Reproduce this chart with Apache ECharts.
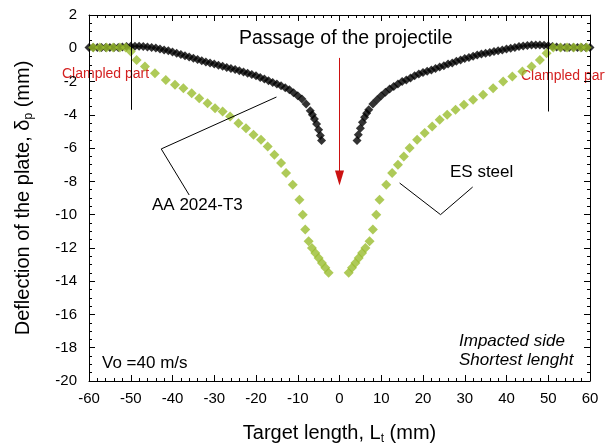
<!DOCTYPE html>
<html><head><meta charset="utf-8">
<script src="https://cdn.jsdelivr.net/npm/echarts@6/dist/echarts.min.js"></script>
<style>html,body{margin:0;padding:0;background:#fff}#c{width:605px;height:447px}</style>
</head><body><div id="c"></div>
<script>
// AA 2024-T3 (black diamonds)
const aaX = [-60,-59,-58,-57,-56,-55,-54,-53,-52,-51,-50,-49,-48,-47,-46,-45,-44,-43,-42,-41,-40,-39,-38,-37,-36,-35,-34,-33,-32,-31,-30,-29,-28,-27,-26,-25,-24,-23,-22,-21,-20,-19,-18,-17,-16,-15,-14,-13,-12,-11,-10,-9,-8,-7,-6.5,-6,-5.5,-5,-4.6,-4.3,
  4.2,4.5,5,5.5,6,6.5,7,8,9,10,11,12,13,14,15,16,17,18,19,20,21,22,23,24,25,26,27,28,29,30,31,32,33,34,35,36,37,38,39,40,41,42,43,44,45,46,47,48,49,50,51,52,53,54,55,56,57,58,59,60];
const aaY = [0.05,0.05,0.05,0.05,0.05,0.05,0.05,0.05,0.08,0.1,0.12,0.12,0.12,0.1,0.08,0.05,0.02,-0.05,-0.1,-0.15,-0.22,-0.3,-0.38,-0.45,-0.52,-0.6,-0.68,-0.75,-0.82,-0.88,-0.95,-1.02,-1.08,-1.15,-1.22,-1.28,-1.35,-1.42,-1.5,-1.58,-1.65,-1.75,-1.85,-1.95,-2.05,-2.15,-2.25,-2.38,-2.5,-2.68,-2.85,-3.05,-3.35,-3.75,-4.0,-4.25,-4.55,-4.9,-5.25,-5.55,
  -5.55,-5.2,-4.8,-4.45,-4.15,-3.9,-3.7,-3.35,-3.1,-2.85,-2.65,-2.45,-2.3,-2.15,-2.0,-1.9,-1.78,-1.65,-1.55,-1.45,-1.38,-1.3,-1.22,-1.12,-1.05,-0.95,-0.88,-0.78,-0.7,-0.62,-0.55,-0.48,-0.4,-0.35,-0.3,-0.25,-0.2,-0.15,-0.1,-0.05,0.0,0.05,0.1,0.14,0.17,0.2,0.2,0.2,0.18,0.15,0.1,0.07,0.05,0.05,0.05,0.05,0.05,0.05,0.05,0.05];
// ES steel (green diamonds)
const esX = [-59.0,-57.4,-55.8,-54.2,-52.6,-51.2,-50.0,-48.6,-46.6,-44.2,-41.6,-39.4,-37.4,-35.4,-33.6,-31.6,-29.8,-28.0,-26.2,-24.2,-22.4,-20.6,-18.8,-17.2,-15.6,-14.0,-12.8,-11.2,-9.6,-8.8,-8.2,-7.4,-6.6,-5.8,-5.0,-4.2,-3.4,-2.6,
  2.2,3.0,3.8,4.6,5.4,6.2,7.2,8.0,8.8,9.6,11.2,12.6,14.0,15.4,16.8,18.6,20.4,22.2,24.0,25.8,27.8,29.8,32.0,34.4,36.8,39.2,41.4,43.8,46.0,48.0,49.6,51.2,52.9,54.5,56.1,57.8,59.2];
const esY = [0.05,0.05,0.05,0.05,0.05,0.05,-0.2,-0.7,-1.1,-1.5,-1.9,-2.2,-2.4,-2.7,-3.0,-3.3,-3.6,-3.8,-4.1,-4.5,-4.8,-5.2,-5.5,-5.9,-6.4,-6.9,-7.5,-8.2,-9.1,-10.0,-10.9,-11.6,-12.0,-12.3,-12.6,-12.9,-13.2,-13.5,
  -13.5,-13.2,-12.9,-12.6,-12.3,-12.0,-11.6,-10.9,-10.0,-9.1,-8.2,-7.5,-7.0,-6.5,-6.0,-5.5,-5.1,-4.7,-4.3,-4.0,-3.7,-3.4,-3.1,-2.8,-2.4,-2.0,-1.7,-1.4,-1.1,-0.7,-0.3,0.05,0.05,0.05,0.05,0.05,0.05];
const xTicks = {min:-60, max:60, interval:10};
const yTicks = {min:-20, max:2, interval:2};

const font = 'Liberation Sans, Arial, sans-serif';
const chart = echarts.init(document.getElementById('c'), null, {renderer:'canvas'});
const axisCommon = {
  axisLine:{show:true, onZero:false, lineStyle:{color:'#000', width:1}},
  axisTick:{show:true, inside:true, length:6, lineStyle:{color:'#000'}},
  minorTick:{show:true, splitNumber:5, length:3, lineStyle:{color:'#000'}},
  splitLine:{show:false}
};
const subStyle = {fontSize:12, fontFamily:font, color:'#000', padding:[12,0,0,0]};
chart.setOption({
  animation:false,
  grid:{left:89, right:15, top:15, bottom:66, outerBoundsMode:'none', containLabel:false},
  xAxis:[
    Object.assign({type:'value', position:'bottom', min:xTicks.min, max:xTicks.max, interval:xTicks.interval,
      axisLabel:{color:'#000', fontSize:15, fontFamily:font, margin:10},
      name:'Target length, L{sub|t} (mm)', nameLocation:'middle', nameGap:40,
      nameTextStyle:{color:'#000', fontSize:20, fontFamily:font, rich:{sub:subStyle}}
    }, axisCommon),
    Object.assign({type:'value', position:'top', min:xTicks.min, max:xTicks.max, interval:xTicks.interval, axisLabel:{show:false}}, axisCommon)
  ],
  yAxis:[
    Object.assign({type:'value', position:'left', min:yTicks.min, max:yTicks.max, interval:yTicks.interval,
      axisLabel:{color:'#000', fontSize:15, fontFamily:font, margin:12},
      name:'Deflection of the plate, δ{sub|p} (mm)', nameLocation:'middle', nameGap:54, nameRotate:90,
      nameTextStyle:{color:'#000', fontSize:20, fontFamily:font, rich:{sub:subStyle}}
    }, axisCommon, {minorTick:{show:true, splitNumber:4, length:3, lineStyle:{color:'#000'}}}),
    Object.assign({type:'value', position:'right', min:yTicks.min, max:yTicks.max, interval:yTicks.interval, axisLabel:{show:false}}, axisCommon, {minorTick:{show:true, splitNumber:4, length:3, lineStyle:{color:'#000'}}})
  ],
  series:[
    {type:'scatter', name:'AA 2024-T3', symbol:'diamond', symbolSize:9, itemStyle:{color:'#000'},
      data: aaX.map((x,i)=>[x, aaY[i]]), z:2,
      markLine:{silent:true, symbol:['none','none'], label:{show:false}, lineStyle:{color:'#000', width:1, type:'solid'},
        data:[
          [{coord:[-50,2]},{coord:[-50,-3.7]}],
          [{coord:[50,2]},{coord:[50,-3.8]}],
          [{coord:[-15.1,-2.93]},{coord:[-42.7,-6.05]}],
          [{coord:[-42.7,-6.05]},{coord:[-36.0,-8.82]}],
          [{coord:[14.4,-8.1]},{coord:[24.2,-10.0]}],
          [{coord:[24.2,-10.0]},{coord:[31.9,-8.34]}]
        ]}
    },
    {type:'scatter', name:'ES steel', symbol:'diamond', symbolSize:10, itemStyle:{color:'#9abd2e'},
      data: esX.map((x,i)=>[x, esY[i]]), z:3,
      markLine:{silent:true, symbol:['none','triangle'], symbolSize:[9,15], label:{show:false}, lineStyle:{color:'#cc1111', width:1, type:'solid'},
        data:[[{coord:[0,-0.58]},{coord:[0,-7.8]}]]}
    }
  ],
  graphic:[
    {type:'text', left:239, top:29, style:{text:'Passage of the projectile', fill:'#000', font:'19.5px '+font}},
    {type:'text', left:62, top:67, style:{text:'Clampled part', fill:'#d42020', font:'14px '+font}},
    {type:'text', left:521, top:69, style:{text:'Clampled part', fill:'#d42020', font:'14px '+font}},
    {type:'text', left:152, top:197, style:{text:'AA 2024-T3', fill:'#000', font:'17px '+font}},
    {type:'text', left:450, top:164, style:{text:'ES steel', fill:'#000', font:'17px '+font}},
    {type:'text', left:102, top:355, style:{text:'Vo =40 m/s', fill:'#000', font:'17px '+font}},
    {type:'text', left:459, top:333, style:{text:'Impacted side', fill:'#000', font:'italic 17px '+font}},
    {type:'text', left:459, top:352, style:{text:'Shortest lenght', fill:'#000', font:'italic 17px '+font}}
  ]
});
</script></body></html>
